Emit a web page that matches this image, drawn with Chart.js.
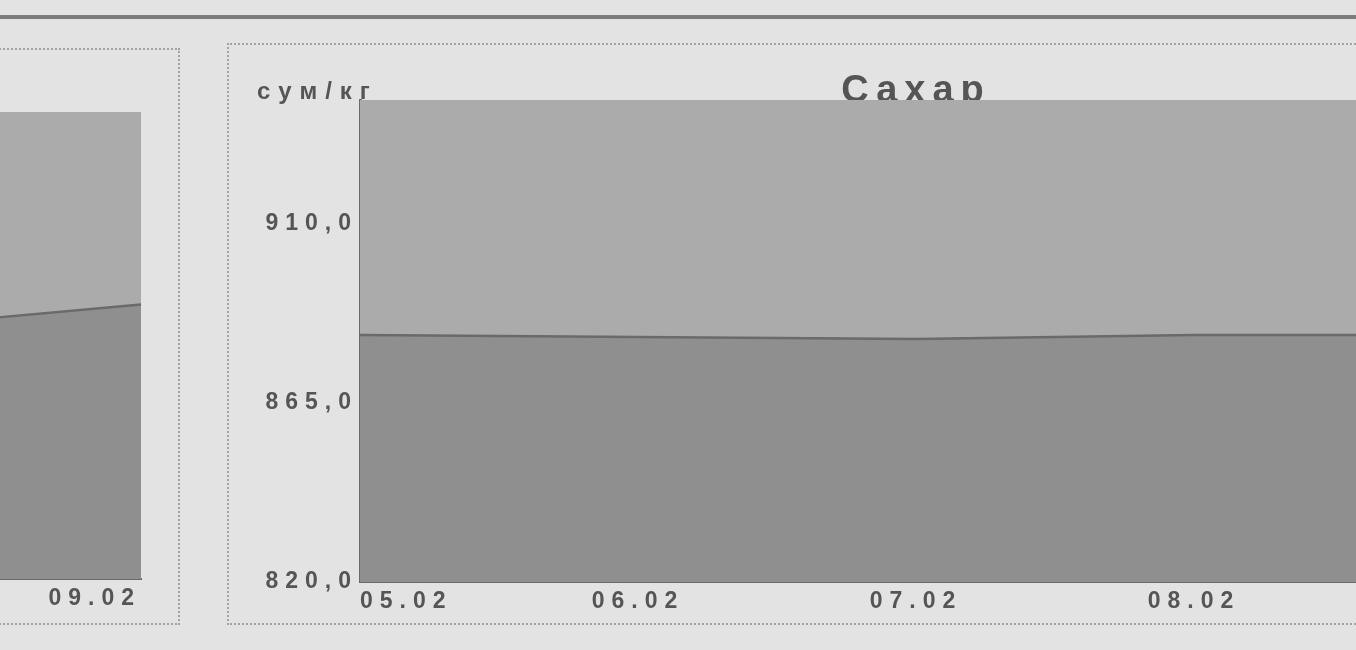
<!DOCTYPE html>
<html lang="ru">
<head>
<meta charset="utf-8">
<title>Сахар</title>
<script src="https://cdn.jsdelivr.net/npm/chart.js@4.4.1/dist/chart.umd.min.js"></script>
<style>
  html, body { margin: 0; padding: 0; }
  body {
    width: 1356px; height: 650px; overflow: hidden; position: relative;
    background: #e3e3e3;
    font-family: "Liberation Sans", Arial, sans-serif;
  }
  .rule { position: absolute; left: 0; top: 15px; width: 1356px; height: 4px; background: #7c7c7c; }
  .box  { position: absolute; border: 2px dotted #a2a2a2; }
  #boxL { left: -20px; top: 48px; width: 196px; height: 573px; }
  #boxR { left: 227px; top: 43px; width: 1300px; height: 578px; }
  .wrap { position: absolute; }
  .unit {
    position: absolute; left: 257px; top: 77px;
    font: bold 24px "Liberation Sans", Arial, sans-serif;
    letter-spacing: 8px; color: #555; line-height: 28px;
  }
</style>
</head>
<body>
<div class="rule"></div>
<div class="box" id="boxL"></div>
<div class="box" id="boxR"></div>
<div class="wrap" style="left:-1101px;top:50px;">
  <canvas id="cPrev" width="1262" height="563"></canvas>
</div>
<div class="wrap" style="left:230px;top:40px;">
  <canvas id="cSugar" width="1372" height="576"></canvas>
</div>
<div class="unit">сум/кг</div>

<script>
/* ── Data ── */
const dates      = ['05.02', '06.02', '07.02', '08.02', '09.02'];
const sugarPrice = [882, 881.5, 881, 882, 882];      // сум/кг
const sugarTicks = [820, 865, 910];
const sugarMin   = 820;
const sugarMax   = 941;
// previous panel (cut off at the left edge, only its tail is visible)
const prevValues = [53, 53, 53, 53.4, 58.8];

/* ── Look ── */
const INK     = '#555555';
const LIGHT   = '#ababab';
const DARK    = '#8f8f8f';
const LINE    = '#6a6a6a';
const _tickFont = { family: '"Liberation Sans", Arial, sans-serif', size: 23, weight: 'bold' };

// widely spaced newsprint lettering + grey plot background
const paperPlugin = {
  id: 'paper',
  beforeDraw(chart) {
    chart.ctx.letterSpacing = '7px';
  },
  beforeDatasetsDraw(chart) {
    const { ctx, chartArea: a } = chart;
    ctx.save();
    ctx.fillStyle = LIGHT;
    ctx.fillRect(a.left, a.top, a.right - a.left, a.bottom - a.top);
    ctx.restore();
  }
};

function areaSet(values) {
  return {
    data: values,
    borderColor: LINE,
    borderWidth: 2.5,
    backgroundColor: DARK,
    fill: 'start',
    pointRadius: 0,
    tension: 0
  };
}

const _xAxis = {
  offset: false,
  grid: { display: false, drawTicks: false },
  border: { display: true, color: LINE, width: 2 },
  afterFit: s => { s.height = 34; },
  ticks: {
    font: _tickFont, color: INK, padding: 6,
    align: 'inner', autoSkip: false, maxRotation: 0
  }
};

/* ───────────────────────────────────────────────────
   1. Previous panel — tail only
─────────────────────────────────────────────────── */
new Chart(document.getElementById('cPrev'), {
  type: 'line',
  data: { labels: dates, datasets: [areaSet(prevValues)] },
  options: {
    responsive: false,
    animation: false,
    layout: { padding: { left: 130, right: 20, top: 62, bottom: 0 } },
    plugins: { legend: { display: false }, tooltip: { enabled: false } },
    scales: {
      x: _xAxis,
      y: { display: false, min: 0, max: 100 }
    }
  },
  plugins: [paperPlugin]
});

/* ───────────────────────────────────────────────────
   2. Сахар — area
─────────────────────────────────────────────────── */
new Chart(document.getElementById('cSugar'), {
  type: 'line',
  data: { labels: dates, datasets: [areaSet(sugarPrice)] },
  options: {
    responsive: false,
    animation: false,
    plugins: {
      legend: { display: false },
      tooltip: { enabled: false },
      title: {
        display: true,
        text: 'Сахар',
        color: INK,
        font: { family: '"Liberation Sans", Arial, sans-serif', size: 38, weight: 'bold', lineHeight: 1 },
        padding: { top: 33, bottom: -11 }
      }
    },
    scales: {
      x: _xAxis,
      y: {
        min: sugarMin,
        max: sugarMax,
        grid: { display: false, drawTicks: false },
        border: { display: true, color: LINE, width: 3 },
        afterBuildTicks: s => { s.ticks = sugarTicks.map(v => ({ value: v })); },
        afterFit: s => { s.width = 130; },
        ticks: {
          font: _tickFont, color: INK, padding: 2,
          callback: v => v.toFixed(1).replace('.', ',')
        }
      },
      // empty right-hand band so the title centres over the plot
      yR: {
        position: 'right',
        min: sugarMin,
        max: sugarMax,
        grid: { display: false, drawTicks: false },
        border: { display: false },
        ticks: { display: false },
        afterFit: s => { s.width = 130; }
      }
    }
  },
  plugins: [paperPlugin]
});
</script>
</body>
</html>
